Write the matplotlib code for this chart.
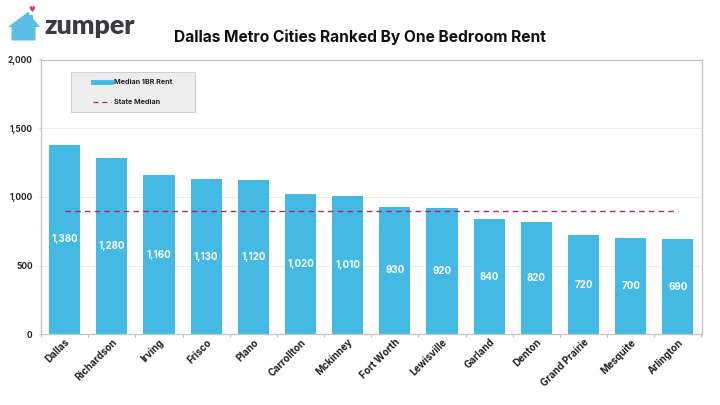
import matplotlib
matplotlib.use("Agg")
import matplotlib.pyplot as plt
from matplotlib.patches import Polygon, Rectangle
from matplotlib.lines import Line2D
from matplotlib.transforms import ScaledTranslation

cities = ["Dallas", "Richardson", "Irving", "Frisco", "Plano", "Carrollton", "Mckinney",
          "Fort Worth", "Lewisville", "Garland", "Denton", "Grand Prairie", "Mesquite", "Arlington"]
rents = [1380, 1280, 1160, 1130, 1120, 1020, 1010, 930, 920, 840, 820, 720, 700, 690]
state_median = [900] * len(cities)
y_ticks = [0, 500, 1000, 1500, 2000]
y_tick_labels = ["0", "500", "1,000", "1,500", "2,000"]

BLUE = "#43B9E4"
W, H = 720, 405
plt.rcParams["font.family"] = ["Inter", "DejaVu Sans"]

fig = plt.figure(figsize=(W / 100, H / 100), dpi=100)
ax = fig.add_axes([41 / W, 1 - 334.3 / H, 660.5 / W, 274.8 / H])

positions = list(range(len(cities)))
ax.bar(positions, rents, width=0.66, color=BLUE, zorder=2)
ax.plot(positions, state_median, color="#B5246E", lw=1, dashes=(4, 3), zorder=3)

for x, v in zip(positions, rents):
    ax.text(x, v * 0.5, f"{v:,}", color="white", fontsize=7, fontweight="bold",
            ha="center", va="center", zorder=4)

ax.set_xlim(-0.5, len(cities) - 0.5)
ax.set_ylim(0, 2000)
ax.set_yticks(y_ticks, y_tick_labels, fontsize=6, fontweight="bold", color="#222222")
ax.set_xticks([p - 0.5 for p in positions] + [len(cities) - 0.5], [""] * (len(cities) + 1))
ax.set_xticks(positions, minor=True)
ax.set_xticklabels(cities, minor=True, rotation=45, ha="right", rotation_mode="anchor",
                   fontsize=7, fontweight="bold", color="#222222")
shift_left = ScaledTranslation(-3 / 100, 0, fig.dpi_scale_trans)
for label in ax.xaxis.get_minorticklabels():
    label.set_transform(label.get_transform() + shift_left)
ax.tick_params(axis="x", which="major", length=2, color="#BDBDBD", width=0.8)
ax.tick_params(axis="x", which="minor", length=0, pad=2)
ax.tick_params(axis="y", length=1.5, color="#BDBDBD", width=0.8, pad=4.5)

ax.grid(axis="y", color="#EBEBEB", lw=0.7, zorder=0)
ax.set_axisbelow(True)
for side in ["left", "right", "top", "bottom"]:
    ax.spines[side].set_color("#C4C4C4")
    ax.spines[side].set_linewidth(0.9)

# Legend panel, placed in pixel-based figure coordinates
def fx(px):
    return px / W

def fy(py):
    return 1 - py / H

fig.add_artist(Rectangle((fx(70.5), fy(111.5)), 124 / W, 39 / H, transform=fig.transFigure,
                         fc="#EDEDED", ec="#CFCFCF", lw=0.7, zorder=5))
fig.add_artist(Line2D([fx(93), fx(111)], [fy(82)] * 2, color=BLUE, lw=3.5, zorder=6))
fig.add_artist(Line2D([fx(93), fx(111)], [fy(102)] * 2, color="#B5246E", lw=0.9,
                      dashes=(4, 3), zorder=6))
fig.text(fx(114), fy(82), "Median 1BR Rent", fontsize=5.2, fontweight="bold", color="#222222",
         va="center", zorder=6)
fig.text(fx(114), fy(102), "State Median", fontsize=5.2, fontweight="bold", color="#222222",
         va="center", zorder=6)

# Title
fig.text(fx(359.5), fy(37.5), "Dallas Metro Cities Ranked By One Bedroom Rent", fontsize=11.2,
         fontweight="bold", color="#111111", ha="center", va="center")

# Brand mark: house, door, heart and wordmark
house = [(8, 27), (28, 12), (29.5, 13), (29.5, 15), (33, 15), (33, 18.5), (40, 27), (35.5, 27),
         (35.5, 40.5), (11.5, 40.5), (11.5, 27)]
fig.add_artist(Polygon([(fx(a), fy(b)) for a, b in house], closed=True, transform=fig.transFigure,
                       fc="#5BBDE6", ec="none"))
fig.text(fx(31.5), fy(10), "\u2665", fontsize=5.5, color="#E8308A", ha="center", va="center",
         family=["DejaVu Sans"])
fig.text(fx(44.5), fy(26.5), "zumper", fontsize=19.4, fontweight="heavy", color="#3B3B45",
         ha="left", va="center", family=["Lato", "DejaVu Sans"])

fig.savefig("out.png", dpi=100)
